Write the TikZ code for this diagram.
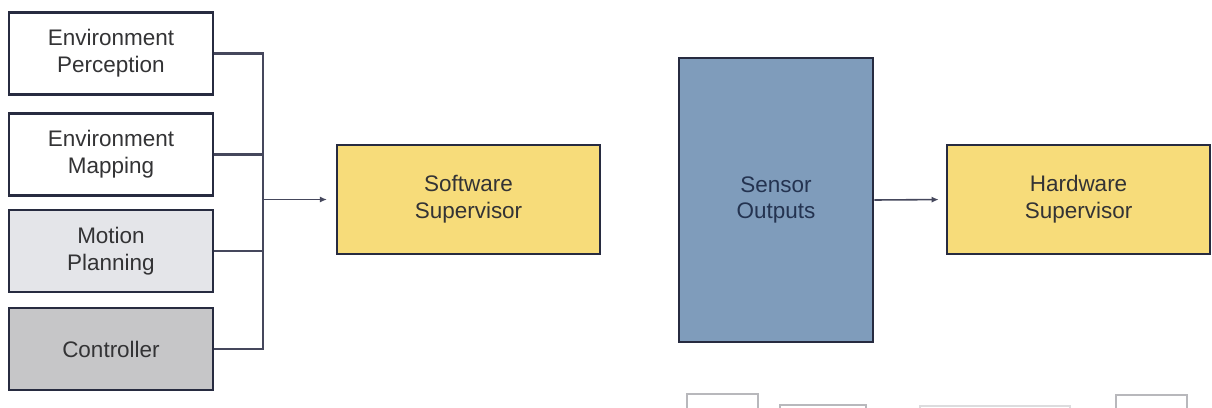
\documentclass[tikz,border=0pt]{standalone}
\usepackage{fontspec}
\setmainfont{Liberation Sans}
\usetikzlibrary{arrows.meta}
\definecolor{edge}{HTML}{272B40}
\definecolor{wire}{HTML}{45475C}
\definecolor{ink}{HTML}{333335}
\definecolor{lightgrey}{HTML}{E4E5E9}
\definecolor{midgrey}{HTML}{C6C6C8}
\definecolor{supyellow}{HTML}{F7DC7A}
\definecolor{sensblue}{HTML}{7F9CBB}
\definecolor{sensink}{HTML}{243350}
\definecolor{faint}{HTML}{B8B8BC}
\begin{document}
\begin{tikzpicture}[x=0.02cm,y=-0.02cm,
	blk/.style={draw=edge,line width=1.5pt,align=center,inner sep=0pt,text=ink,
		font=\fontsize{12.8}{15.3}\selectfont},
	task/.style={blk,minimum width=4.08cm,minimum height=1.64cm},
	sup/.style={blk,fill=supyellow,minimum width=5.26cm,minimum height=2.18cm},
	wire/.style={draw=wire,line width=1.4pt},
	feed/.style={draw=wire,line width=0.9pt,-{Latex[length=4pt,width=3.5pt]}}]
	\clip (0,0) rectangle (1212,407);
	\fill[white] (0,0) rectangle (1212,407);
	% software side: four modules into one supervisor
	\foreach \n/\y/\c/\t in {perc/53.5/white/{Environment\\Perception},
		mapping/154.5/white/{Environment\\Mapping},
		planning/251/lightgrey/{Motion\\Planning},
		control/349/midgrey/Controller}{
		\node[task,fill=\c] (\n) at (111,\y) {\t};
	}
	\node[sup] (swsup) at (468.5,199.5) {Software\\Supervisor};
	\coordinate (join) at (263,199.5);
	\foreach \n in {perc,mapping,planning,control}{
		\draw[wire] (\n.east) -| (join);
	}
	\draw[feed,shorten >=5pt] (join) -- (swsup.west);
	% hardware side
	\node[blk,fill=sensblue,text=sensink,minimum width=3.88cm,minimum height=5.68cm] (sensors) at (776,200) {Sensor\\Outputs};
	\node[sup] (hwsup) at (1078.5,199.5) {Hardware\\Supervisor};
	\draw[feed,shorten >=4pt] (sensors.east) -- (hwsup.west);
	% next row, cut off at the page edge
	\draw[faint,line width=1.2pt] (687,394) rectangle (758,440)
		(780,405) rectangle (866,440) (1116,395) rectangle (1187,440);
	\draw[faint!50,line width=1pt] (920,406) rectangle (1070,440);
\end{tikzpicture}
\end{document}
